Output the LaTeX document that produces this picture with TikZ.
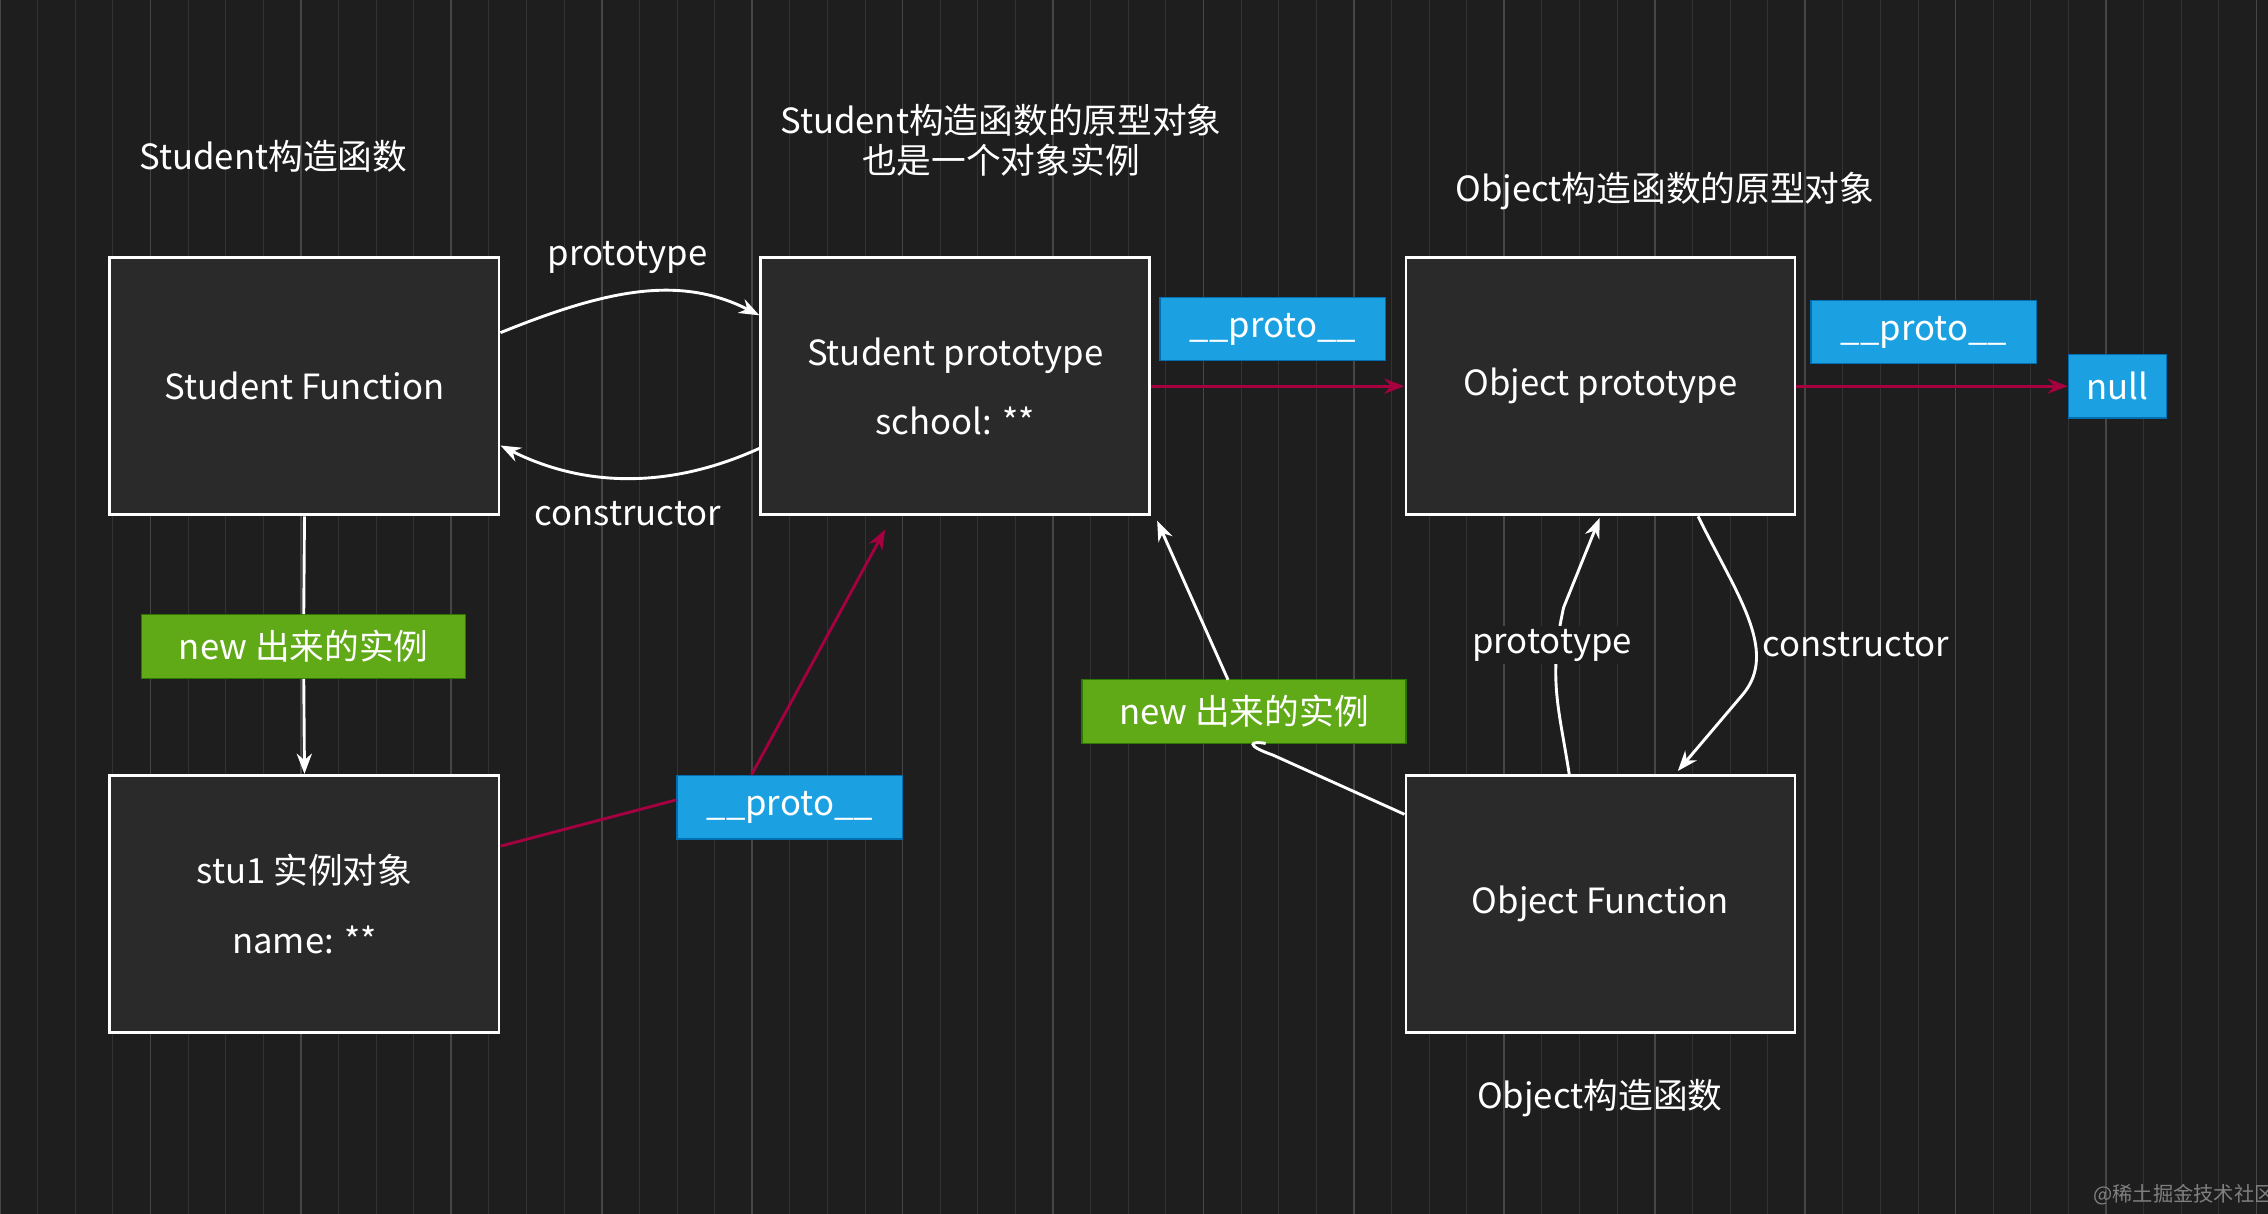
\documentclass[tikz,border=0pt]{standalone}
\usepackage{fontspec}
\setmainfont{Noto Sans CJK SC}
\usetikzlibrary{arrows.meta}
\definecolor{bgcolor}{RGB}{30, 30, 30}
\definecolor{gridcolor}{RGB}{50, 50, 50}
\definecolor{gridmajor}{RGB}{70, 70, 70}
\definecolor{boxcolor}{RGB}{42, 42, 42}
\definecolor{protocolor}{RGB}{27, 161, 226}
\definecolor{protoborder}{RGB}{0, 110, 175}
\definecolor{newcolor}{RGB}{96, 169, 23}
\definecolor{newborder}{RGB}{45, 118, 0}
\definecolor{linkcolor}{RGB}{165, 0, 64}

\tikzset{
        obj/.style={draw=white, fill=boxcolor, line width=1pt, minimum width=134.5pt, minimum height=89pt, inner sep=0pt, text=white, font=\fontsize{12}{24}\selectfont, align=center},
        proto/.style={draw=protoborder, fill=protocolor, text=white, minimum width=78pt, minimum height=22pt, inner sep=0pt, font=\fontsize{12}{14}\selectfont},
        newlabel/.style={draw=newborder, fill=newcolor, text=white, minimum width=112pt, minimum height=22pt, inner sep=0pt, font=\fontsize{12}{14}\selectfont},
        title/.style={text=white, font=\fontsize{12}{14}\selectfont, align=center},
        edgelabel/.style={text=white, font=\fontsize{12}{14}\selectfont},
        link/.style={draw=white, line width=1pt, -{Stealth[length=7pt]}},
        protolink/.style={draw=linkcolor, line width=1pt, -{Stealth[length=7pt]}},
}

\begin{document}
\begin{tikzpicture}[x=0.5pt, y=-0.5pt]
        \fill[bgcolor] (0, 0) rectangle (1568, 839);
        \useasboundingbox (0, 0) rectangle (1568, 839);

        % grid
        \draw[gridcolor, line width=0.3pt] (0, 0) grid[step=26] (1568, 839);
        \draw[gridmajor, line width=0.6pt] (0, 0) grid[step=104] (1568, 839);

        % objects
        \node[obj] (studentfn) at (210.5, 267) {Student Function};
        \node[obj] (studentproto) at (660.5, 267) {Student prototype\\school: **};
        \node[obj] (objectproto) at (1106.5, 267) {Object prototype};
        \node[obj] (stu) at (210.5, 625) {stu1 实例对象\\name: **};
        \node[obj] (objectfn) at (1106.5, 625) {Object Function};
        \node[proto, minimum width=34pt] (null) at (1464, 267) {null};

        % titles
        \node[title] (studentfntitle) at (189, 108) {Student构造函数};
        \node[title] (studentprototitle) at (692, 97) {Student构造函数的原型对象\\也是一个对象实例};
        \node[title] (objectprototitle) at (1151, 132) {Object构造函数的原型对象};
        \node[title] (objectfntitle) at (1106, 759) {Object构造函数};

        % coordinates
        \coordinate (spbottom) at (612, 366);
        \coordinate (spcorner) at (800, 360);

        % prototype / constructor
        \draw[link] (studentfn.east |- 0, 230) .. controls (420, 200) and (470, 190) .. (studentproto.west |- 0, 218);
        \node[edgelabel] (prototypelabel) at (434, 178) {prototype};
        \draw[link] (studentproto.west |- 0, 310) .. controls (470, 335) and (410, 340) .. (studentfn.east |- 0, 308);
        \node[edgelabel] (constructorlabel) at (434, 355) {constructor};

        % new
        \node[newlabel] (newstu) at (210, 447) {new 出来的实例};
        \draw[white, line width=1pt] (studentfn.south) -- (newstu.north);
        \draw[link] (newstu.south) -- (stu.north);

        % __proto__ chain
        \node[proto] (stuproto) at (546, 558) {\_\_proto\_\_};
        \draw[linkcolor, line width=1pt] (stu.east |- 0, 585) -- (stuproto.west |- 0, 553);
        \draw[protolink] (stuproto.north west) ++(52, 0) coordinate (stuprotoout) -- (spbottom);
        \node[proto] (spproto) at (880, 227.5) {\_\_proto\_\_};
        \draw[protolink] (studentproto.east) -- (objectproto.west);
        \node[proto] (opproto) at (1330, 229.5) {\_\_proto\_\_};
        \draw[protolink] (objectproto.east) -- (null.west);

        % Object Function
        \draw[link] (objectfn.south west |- 0, 536) ++(114, 0) .. controls (1078, 490) and (1070, 470) .. (1081, 420) -- (1106, 358);
        \node[edgelabel, fill=bgcolor, inner sep=1pt] (oprototypelabel) at (1073, 446) {prototype};
        \draw[link] (objectproto.south west) ++(203, 0) .. controls (1200, 410) and (1230, 450) .. (1205, 480) -- (1160, 533);
        \node[edgelabel] (oconstructorlabel) at (1283, 446) {constructor};
        \node[newlabel] (newobj) at (860, 492) {new 出来的实例};
        \draw[white, line width=1pt] (objectfn.west |- 0, 563) -- (880, 522) .. controls (860, 515) and (865, 512) .. (875, 514);
        \draw[link] (849, 470) -- (spcorner);

        % watermark
        \node[text=gray, font=\fontsize{7}{8}\selectfont] (watermark) at (1510, 826) {@稀土掘金技术社区};
\end{tikzpicture}
\end{document}
